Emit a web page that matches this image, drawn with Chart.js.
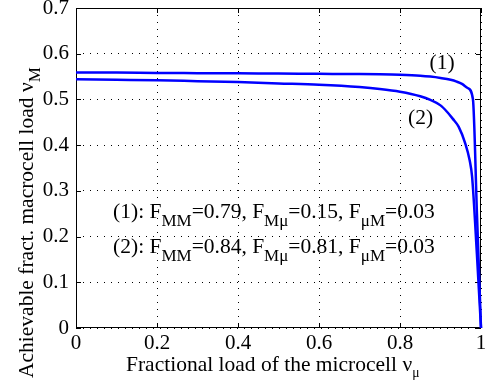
<!DOCTYPE html>
<html>
<head>
<meta charset="utf-8">
<script src="https://cdn.jsdelivr.net/npm/chart.js@4/dist/chart.umd.min.js"></script>
<style>
html,body{margin:0;padding:0;background:#fff;}
#wrap{width:486px;height:383px;position:relative;}
</style>
</head>
<body>
<div id="wrap"><canvas id="c" width="486" height="383"></canvas></div>
<script>
// ---- data ----
const curve1X = [0, 0.1, 0.2, 0.3, 0.4, 0.5, 0.6, 0.7, 0.75, 0.8, 0.85, 0.875, 0.9, 0.925, 0.94, 0.953, 0.967, 0.98, 0.99, 1.0];
const curve1Y = [0.559, 0.5588, 0.558, 0.5575, 0.557, 0.5565, 0.556, 0.5555, 0.555, 0.554, 0.552, 0.550, 0.547, 0.543, 0.539, 0.534, 0.525, 0.501, 0.25, 0];
const curve2X = [0, 0.1, 0.2, 0.3, 0.4, 0.5, 0.6, 0.7, 0.75, 0.8, 0.85, 0.875, 0.9, 0.916, 0.93, 0.945, 0.961, 0.972, 0.978, 0.99, 1.0];
const curve2Y = [0.544, 0.543, 0.542, 0.540, 0.538, 0.535, 0.532, 0.527, 0.523, 0.517, 0.507, 0.499, 0.487, 0.473, 0.458, 0.44, 0.404, 0.367, 0.331, 0.16, 0];
const xTicks = [0, 0.2, 0.4, 0.6, 0.8, 1];
const yTicks = [0, 0.1, 0.2, 0.3, 0.4, 0.5, 0.6, 0.7];
const curveNames = ['(1)', '(2)'];
const annotationLines = [
  [{t:'(1): F'},{t:'MM',sub:true},{t:'=0.79, F'},{t:'Mμ',sub:true},{t:'=0.15, F'},{t:'μM',sub:true},{t:'=0.03'}],
  [{t:'(2): F'},{t:'MM',sub:true},{t:'=0.84, F'},{t:'Mμ',sub:true},{t:'=0.81, F'},{t:'μM',sub:true},{t:'=0.03'}]
];
const xTitle = [{t:'Fractional load of the microcell ν'},{t:'μ',sub:true,small:true}];
const yTitle = [{t:'Achievable fract. macrocell load ν'},{t:'M',sub:true}];

const FONT = "'Liberation Serif', 'Times New Roman', serif";
Chart.defaults.font.family = FONT;
Chart.defaults.font.size = 21;
Chart.defaults.color = '#000';
const toPts = (xs, ys) => xs.map((x, i) => ({x: x, y: ys[i]}));

function drawRich(ctx, segs, x, y, size, subSize, subDrop){
  ctx.textAlign = 'left';
  ctx.textBaseline = 'alphabetic';
  let cx = x;
  for (const s of segs){
    const sz = s.sub ? (s.small ? subSize*0.8 : subSize) : size;
    ctx.font = sz + 'px ' + FONT;
    ctx.fillText(s.t, cx, s.sub ? y + subDrop : y);
    cx += ctx.measureText(s.t).width;
  }
}

const framePlugin = {
  id: 'frame',
  beforeDatasetsDraw(chart){
    const {ctx, chartArea: a, scales} = chart;
    ctx.save();
    ctx.strokeStyle = '#000';
    ctx.lineWidth = 1;
    ctx.setLineDash([]);
    ctx.strokeRect(Math.round(a.left) + 0.5, Math.round(a.top) + 0.5, Math.round(a.right - a.left) - 1, Math.round(a.bottom - a.top) - 1);
    const tl = 5;
    ctx.beginPath();
    for (const v of xTicks){
      const px = Math.round(scales.x.getPixelForValue(v)) + 0.5;
      ctx.moveTo(px, a.bottom); ctx.lineTo(px, a.bottom - tl);
      ctx.moveTo(px, a.top); ctx.lineTo(px, a.top + tl);
    }
    for (const v of yTicks){
      const py = Math.round(scales.y.getPixelForValue(v)) + 0.5;
      ctx.moveTo(a.left, py); ctx.lineTo(a.left + tl, py);
      ctx.moveTo(a.right, py); ctx.lineTo(a.right - tl, py);
    }
    ctx.stroke();
    ctx.restore();
  },
  afterDraw(chart){
    const {ctx, scales} = chart;
    const xs = scales.x, ys = scales.y;
    ctx.save();
    ctx.fillStyle = '#000';
    // annotation lines
    drawRich(ctx, annotationLines[0], xs.getPixelForValue(0.0915), ys.getPixelForValue(0.240), 21.5, 17, 8);
    drawRich(ctx, annotationLines[1], xs.getPixelForValue(0.0915), ys.getPixelForValue(0.164), 21.5, 17, 8);
    // curve labels
    drawRich(ctx, [{t:curveNames[0]}], xs.getPixelForValue(0.873), ys.getPixelForValue(0.566), 21.5, 17, 0);
    drawRich(ctx, [{t:curveNames[1]}], xs.getPixelForValue(0.82), ys.getPixelForValue(0.446), 21.5, 17, 0);
    // x title
    drawRich(ctx, xTitle, 126, 371, 21.5, 17, 6);
    // y title (rotated)
    ctx.translate(33, 378);
    ctx.rotate(-Math.PI/2);
    drawRich(ctx, yTitle, 0, 0, 21.5, 17, 7);
    ctx.restore();
  }
};

new Chart(document.getElementById('c'), {
  type: 'scatter',
  data: {
    datasets: [
      {label: curveNames[0], data: toPts(curve1X, curve1Y), showLine: true, borderColor: '#0000ff', backgroundColor: '#0000ff', borderWidth: 2.5, pointRadius: 0, cubicInterpolationMode: 'monotone', clip: false},
      {label: curveNames[1], data: toPts(curve2X, curve2Y), showLine: true, borderColor: '#0000ff', backgroundColor: '#0000ff', borderWidth: 2.5, pointRadius: 0, cubicInterpolationMode: 'monotone', clip: false}
    ]
  },
  options: {
    responsive: false,
    animation: false,
    devicePixelRatio: 1,
    layout: {padding: {top: 8, right: 5, left: 0, bottom: 0}},
    plugins: {legend: {display: false}, tooltip: {enabled: false}},
    scales: {
      x: {
        type: 'linear', min: 0, max: 1,
        afterBuildTicks: s => { s.ticks = xTicks.map(v => ({value: v})); },
        afterFit: s => { s.height = 55; s.paddingLeft = 0; s.paddingRight = 0; },
        ticks: {color: '#000', font: {family: FONT, size: 21}, padding: 3, maxRotation: 0, callback: v => String(v)},
        grid: {color: '#000', lineWidth: 1, drawTicks: false},
        border: {display: false, dash: [1, 6]}
      },
      y: {
        type: 'linear', min: 0, max: 0.7,
        afterBuildTicks: s => { s.ticks = yTicks.map(v => ({value: v})); },
        afterFit: s => { s.width = 76; s.paddingTop = 0; s.paddingBottom = 0; },
        ticks: {color: '#000', font: {family: FONT, size: 21}, padding: 7, callback: v => String(v)},
        grid: {color: '#000', lineWidth: 1, drawTicks: false},
        border: {display: false, dash: [1, 6]}
      }
    }
  },
  plugins: [framePlugin]
});
</script>
</body>
</html>
